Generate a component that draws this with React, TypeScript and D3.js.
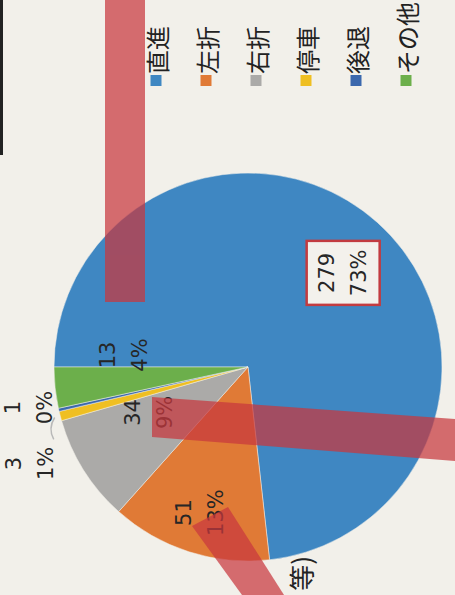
import React from "react";
import * as d3 from "d3";

const categories = ["直進", "左折", "右折", "停車", "後退", "その他"];
const counts = [279, 51, 34, 3, 1, 13];
const pctLabels = ["73%", "13%", "9%", "1%", "0%", "4%"];
const colors = ["#3f87c2", "#e07a36", "#abaaa8", "#efbf22", "#3b68ad", "#6caf4b"];

// layout (not data)
const labelRadius = [0.69, 0.79, 0.56, 1.23, 1.15, 0.64];
const labelShiftDeg = [3.5, 0.5, 7.4, -9.2, 2.3, 11.7];

const W = 455;
const H = 595;
const BG = "#f2f0ea";

export default function App() {
  const cx = 228;
  const cy = 248;
  const r = 194;
  const pie = d3.pie<number>().sort(null).value((d) => d);
  const arcs = pie(counts);
  const arcGen = d3.arc<d3.PieArcDatum<number>>().innerRadius(0).outerRadius(r);
  const font = "'DejaVu Sans', sans-serif";
  const cjk = "'Noto Sans CJK JP', sans-serif";

  const labelPos = arcs.map((a, i) => {
    const ang = (a.startAngle + a.endAngle) / 2 + (labelShiftDeg[i] * Math.PI) / 180;
    const rr = r * labelRadius[i];
    return [Math.sin(ang) * rr, -Math.cos(ang) * rr];
  });

  // leader line for 停車
  const yl = arcs[3];
  const ya = (yl.startAngle + yl.endAngle) / 2;
  const p0 = [Math.sin(ya) * r * 1.03, -Math.cos(ya) * r * 1.03];
  const p1 = [labelPos[3][0] + 24, labelPos[3][1] + 24];
  const pm = [(p0[0] + p1[0]) / 2, Math.min(p0[1], p1[1]) - 6];

  const legendX = 509;
  const legendY0 = 156;
  const legendStep = 50;

  return (
    <svg
      width={W}
      height={H}
      style={{ position: "absolute", left: 0, top: 0, display: "block" }}
    >
      <rect x={0} y={0} width={W} height={H} fill={BG} />
      <g transform={`translate(0,${H}) rotate(-90)`}>
        <rect x={440} y={0} width={155} height={3} fill="#222" />
        <g transform={`translate(${cx},${cy})`}>
          {arcs.map((a, i) => (
            <path key={i} d={arcGen(a) || ""} fill={colors[i]} stroke={BG} strokeWidth={0.5} />
          ))}
          <path
            d={`M${p0[0]},${p0[1]} Q${pm[0]},${pm[1]} ${p1[0]},${p1[1]}`}
            fill="none"
            stroke="#b8b8b8"
            strokeWidth={1.5}
          />
          {arcs.map((a, i) => {
            const [x, y] = labelPos[i];
            return (
              <g key={i} transform={`translate(${x},${y})`}>
                {i === 0 && (
                  <rect x={-32} y={-36.5} width={64} height={73} fill="#f3f1ec" stroke="#c23b40" strokeWidth={2.5} />
                )}
                <text
                  y={-16}
                  textAnchor="middle"
                  dominantBaseline="central"
                  fontFamily={font}
                  fontSize={21}
                  fill="#262626"
                >
                  {counts[i]}
                </text>
                <text
                  y={16}
                  textAnchor="middle"
                  dominantBaseline="central"
                  fontFamily={font}
                  fontSize={21}
                  fill="#262626"
                >
                  {pctLabels[i]}
                </text>
              </g>
            );
          })}
        </g>
        {categories.map((c, i) => (
          <g key={c} transform={`translate(${legendX},${legendY0 + i * legendStep})`}>
            <rect x={0} y={-5.5} width={11} height={11} fill={colors[i]} />
            <text
              x={12}
              y={0}
              dominantBaseline="central"
              fontFamily={cjk}
              fontSize={24}
              fill="#222"
            >
              {c}
            </text>
          </g>
        ))}
        <text
          x={39}
          y={300}
          textAnchor="end"
          dominantBaseline="central"
          fontFamily={cjk}
          fontSize={26}
          fill="#222"
        >
          等)
        </text>
      </g>
      {/* highlighter marks on the scanned page */}
      <g fill="#c8383e" opacity={0.72}>
        <rect x={105} y={0} width={40} height={302} />
        <polygon points="152,397 455,419 455,461 152,437" />
        <polygon points="192,526 228,507 284,595 242,595" />
      </g>
    </svg>
  );
}
